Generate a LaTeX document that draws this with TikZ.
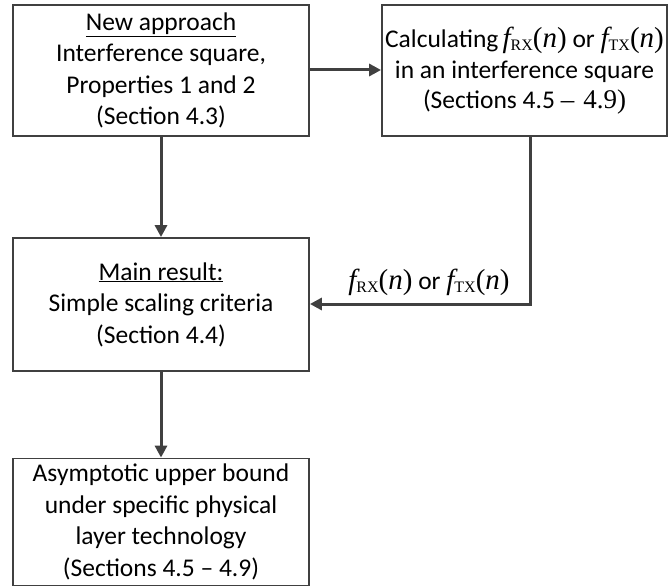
\documentclass[tikz,border=0pt]{standalone}
\usepackage{fontspec}
\setmainfont{Carlito}
\newfontfamily\tms{Liberation Serif}
\usetikzlibrary{arrows.meta}
\definecolor{ln}{HTML}{404040}
\newcommand\fsub[1]{{\tms\fontsize{29}{30}\selectfont\itshape f}\raisebox{-3pt}{\tms\fontsize{16}{16}\selectfont #1}{\tms\fontsize{29}{30}\selectfont(\itshape n\/\upshape)}}
\tikzset{
  box/.style={draw=ln, line width=1.8pt, fill=white, align=center, inner sep=0pt,
    font=\fontsize{25.5}{31.5}\selectfont},
  conn/.style={draw=ln, line width=3pt, -{Triangle[length=12pt,width=12pt]}},
  lbl/.style={inner sep=0pt, font=\fontsize{25.5}{31.5}\selectfont}
}
\begin{document}
\begin{tikzpicture}[x=1pt,y=-1pt]
\useasboundingbox (0,0) rectangle (670,586);
\node[box, minimum width=296pt, minimum height=131pt] (A) at (161,70.5)
  {\underline{New approach}\\Interference square,\\Properties 1 and 2\\(Section 4.3)};
\node[box, minimum width=285pt, minimum height=131pt] (B) at (524.5,70.5)
  {Calculating\,\fsub{RX} or \fsub{TX}\\in an interference square\\[-2pt](Sections 4.5 {\tms\fontsize{27}{30}\selectfont\textendash\,\,4.9)}};
\node[box, minimum width=296pt, minimum height=133pt] (C) at (161,304.5)
  {\underline{Main result:}\\Simple scaling criteria\\(Section 4.4)};
\node[box, minimum width=296pt, minimum height=127pt] (D) at (161,522)
  {Asymptotic upper bound\\under specific physical\\layer technology\\(Sections 4.5 \textendash\ 4.9)};
\coordinate (bc) at (530,304);
\node[lbl] (L) at (429,282) {\fsub{RX} or \fsub{TX}};
\draw[conn] (A.east |- 0,70) -- (B.west |- 0,70);
\draw[conn] (A) -- (C);
\draw[conn] (B.south -| bc) -- (bc) -- (C.east |- bc);
\draw[conn] (C) -- (D);
\end{tikzpicture}
\end{document}
